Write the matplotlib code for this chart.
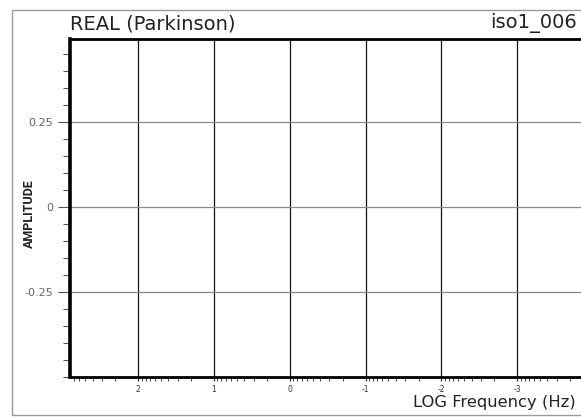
import numpy as np
import matplotlib
matplotlib.use("Agg")
import matplotlib.pyplot as plt
from matplotlib.patches import Rectangle

# chart content (empty plot: only axes, ticks and labels)
title_left = "REAL (Parkinson)"
title_right = "iso1_006"
x_label = "LOG Frequency (Hz)"
y_label = "AMPLITUDE"
x_major = [2, 1, 0, -1, -2, -3]
x_tick_labels = ["2", "1", "0", "-1", "-2", "-3"]
y_major = [-0.25, 0, 0.25]
y_tick_labels = ["-0.25", "0", "0.25"]
x_limits = (2.9, -4.0)
y_limits = (-0.5, 0.495)

W, H = 581, 417
fig = plt.figure(figsize=(W / 100, H / 100), dpi=100)

# outer gray frame
fig.add_artist(Rectangle((12 / W, 2 / H), 1.2, (407 - 2) / H, transform=fig.transFigure,
                         fill=False, edgecolor="#9a9a9a", linewidth=1.0))

ax = fig.add_axes([70 / W, (H - 377) / H, 523 / W, 338 / H])

ax.set_xticks(x_major)
ax.set_xticklabels(x_tick_labels)
x_minor = [d + np.log10(k) for d in range(-5, 3) for k in range(2, 10)]
ax.set_xticks(x_minor, minor=True)

ax.set_yticks(y_major)
ax.set_yticklabels(y_tick_labels)
y_minor = np.round(np.arange(-0.5, 0.5001, 0.05), 2)
ax.set_yticks(y_minor, minor=True)

# limits after ticks, otherwise set_xticks widens the view
ax.set_xlim(*x_limits)
ax.set_ylim(*y_limits)

ax.tick_params(axis="x", which="major", direction="out", length=3, width=0.8,
               pad=3, labelsize=5.5, labelcolor="#333333", color="#222222")
ax.tick_params(axis="x", which="minor", direction="out", length=3, width=0.7, color="#444444")
ax.tick_params(axis="y", which="major", direction="out", length=9, width=0.8,
               pad=3, labelsize=8, labelcolor="#666666", color="#555555")
ax.tick_params(axis="y", which="minor", direction="out", length=5, width=0.8, color="#555555")

ax.grid(True, axis="x", which="major", color="#111111", linewidth=0.9)
ax.grid(True, axis="y", which="major", color="#8a8a8a", linewidth=0.9)

for side in ["left", "bottom", "top"]:
    ax.spines[side].set_linewidth(2.0)
    ax.spines[side].set_color("black")
ax.spines["left"].set_linewidth(2.6)
ax.spines["right"].set_visible(False)

fig.text(70 / W, (H - 29) / H, title_left, fontsize=14, color="#222222",
         ha="left", va="baseline")
fig.text(490 / W, (H - 28) / H, title_right, fontsize=14, color="#222222",
         ha="left", va="baseline")
fig.text(413 / W, (H - 407) / H, x_label, fontsize=11.8, color="#222222",
         ha="left", va="baseline")
fig.text(29 / W, (H - 214) / H, y_label, fontsize=9, color="#222222",
         family=["Roboto", "DejaVu Sans"], fontweight="bold",
         rotation=90, ha="center", va="center")

fig.savefig("out.png", dpi=100)
